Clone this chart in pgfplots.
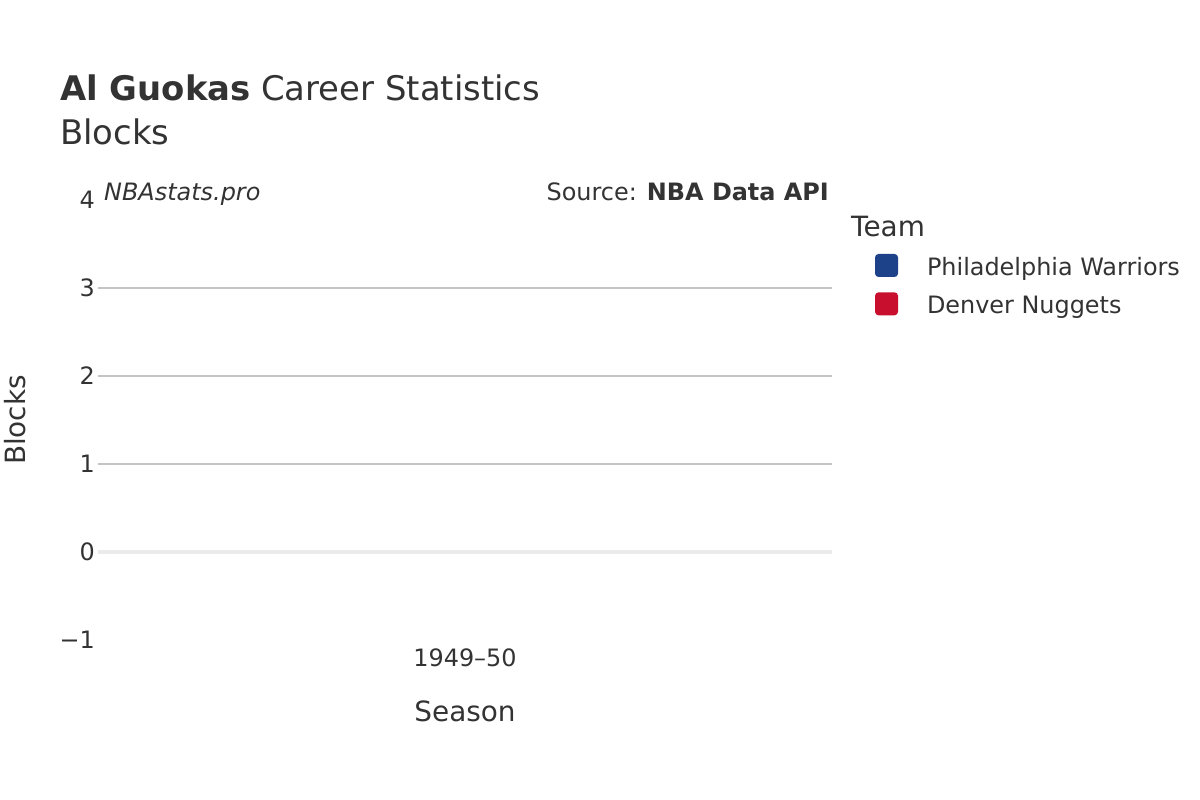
\documentclass[border=0pt]{standalone}
\usepackage{fontspec}
\setmainfont{DejaVu Sans}
\usepackage{pgfplots}
\pgfplotsset{compat=1.18}
\definecolor{txt}{HTML}{333333}
\definecolor{gridc}{HTML}{C4C4C4}
\definecolor{zeroc}{HTML}{EBEBEB}
\definecolor{phw}{HTML}{1D428A}
\definecolor{den}{HTML}{C8102E}
\pgfplotsset{
  teamkey/.style={legend image code/.code={%
    \fill[##1, rounded corners=3.5bp] (0bp,-9.5bp) rectangle (23bp,13.5bp);
    \path (52bp,0bp);}},
}
\begin{document}
\begin{tikzpicture}[x=1bp,y=1bp]
\fill[white] (0,0) rectangle (1200,800);
\begin{axis}[
  at={(98bp,160bp)}, anchor=south west,
  scale only axis, width=734bp, height=440bp,
  xmin=-0.5, xmax=0.5, ymin=-1, ymax=4,
  ybar, bar width=60bp,
  axis line style={draw=none},
  major tick length=0pt,
  xtick={0}, xticklabels={1949–50},
  ytick={1,2,3},
  yticklabels={1,2,3},
  extra y ticks={-1,0,4},
  extra y tick labels={−1,0,4},
  extra y tick style={grid=none},
  ymajorgrids,
  major grid style={draw=gridc, line width=1.5bp},
  ticklabel style={font=\fontsize{24}{28}\selectfont, text=txt},
  yticklabel style={anchor=east, inner sep=0pt, xshift=-3bp},
  xticklabel style={anchor=north, inner sep=0pt, yshift=-8.5bp},
  xlabel={Season}, ylabel={Blocks},
  label style={font=\fontsize{28}{32}\selectfont, text=txt},
  xlabel style={at={(axis description cs:0.5,0)}, anchor=base, yshift=-82bp},
  ylabel style={at={(axis description cs:-0.0981,0.5)}, anchor=base, rotate=0},
  legend style={at={(axis description cs:1.0586,0.8773)}, anchor=north west,
    draw=none, fill=none, inner sep=0pt, outer sep=0pt,
    font=\fontsize{24}{29}\selectfont, text=txt,
    nodes={inner sep=0pt}, row sep=15bp, column sep=0pt},
  legend cell align=left,
  clip=false,
]
\addplot[fill=phw, draw=none, teamkey] coordinates {(0,0)};
\addlegendentry{Philadelphia Warriors}
\addplot[fill=den, draw=none, teamkey] coordinates {(0,0)};
\addlegendentry{Denver Nuggets}
\draw[zeroc, line width=4bp] (axis cs:-0.5,0) -- (axis cs:0.5,0);
\end{axis}
\node[anchor=base west, font=\fontsize{34}{40}\selectfont, text=txt, inner sep=0pt]
  at (60,699) {\textbf{Al Guokas} Career Statistics};
\node[anchor=base west, font=\fontsize{34}{40}\selectfont, text=txt, inner sep=0pt]
  at (60,655) {Blocks};
\node[anchor=base west, font=\fontsize{24}{28}\selectfont\itshape, text=txt, inner sep=0pt]
  at (104,599) {NBAstats.pro};
\node[anchor=base east, font=\fontsize{24}{28}\selectfont, text=txt, inner sep=0pt]
  at (829,599) {Source: \textbf{NBA Data API}};
\node[anchor=base west, font=\fontsize{28}{32}\selectfont, text=txt, inner sep=0pt]
  at (851,563) {Team};
\end{tikzpicture}
\end{document}
